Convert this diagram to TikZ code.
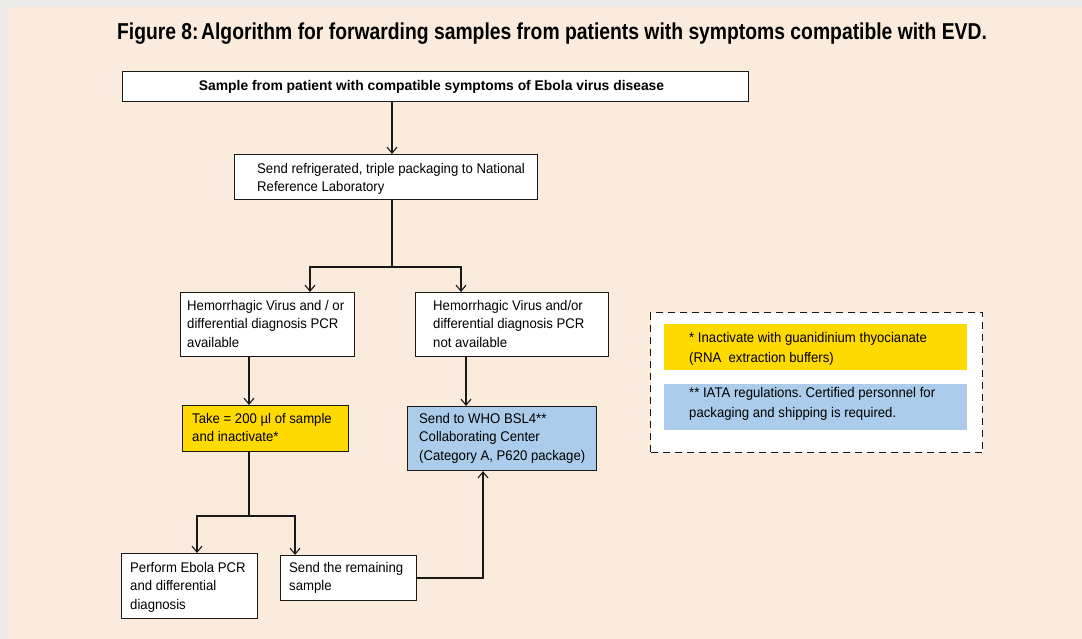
\documentclass[tikz,border=0pt]{standalone}
\usepackage{fontspec}
\setmainfont{Liberation Sans}
\newfontfamily\titlef[FakeStretch=0.84]{Liberation Sans}
\newfontfamily\bodyf[FakeStretch=0.94]{Liberation Sans}
\newfontfamily\headf[FakeStretch=0.99]{Liberation Sans}
\usetikzlibrary{arrows.meta,calc}
\definecolor{bgbeige}{RGB}{250,235,220}
\definecolor{bggray}{RGB}{235,235,234}
\definecolor{boxyellow}{RGB}{255,218,0}
\definecolor{boxblue}{RGB}{171,205,235}
\definecolor{linec}{RGB}{25,25,25}
\frenchspacing
\begin{document}
\begin{tikzpicture}[x=1pt,y=-1pt,
  box/.style={draw=linec, line width=1.1pt, fill=white, inner sep=0pt, anchor=north west},
  note/.style={fill=#1, inner sep=0pt, anchor=north west},
  txt/.style={anchor=north west, inner sep=0pt, align=left, font=\bodyf\fontsize{14}{18.5}\selectfont},
  ln/.style={draw=linec, line width=1.1pt},
  arr/.style={draw=linec, line width=1.1pt, -{Straight Barb[length=6pt,width=10pt]}}]
\useasboundingbox (0,0) rectangle (1082,639);
\fill[bggray] (0,0) rectangle (1082,639);
\fill[bgbeige] (7,7) rectangle (1082,639);
\node[anchor=base, inner sep=0pt, font=\titlef\bfseries\fontsize{23}{24}\selectfont] (title) at (552,40) {Figure 8:\hspace{2.5pt}Algorithm for forwarding samples from patients with symptoms compatible with EVD.};
% boxes
\node[box, minimum width=626pt, minimum height=30pt, font=\headf\bfseries\fontsize{14}{15}\selectfont] (b1) at (122,71) {Sample from patient with compatible symptoms of Ebola virus disease\hspace*{8pt}};
\node[box, minimum width=303pt, minimum height=45pt] (b2) at (234,154) {};
\node[box, minimum width=174pt, minimum height=64pt] (b3) at (180,292) {};
\node[box, minimum width=193pt, minimum height=64pt] (b4) at (415,292) {};
\node[box, fill=boxyellow, minimum width=166pt, minimum height=46pt] (b5) at (182,405) {};
\node[box, fill=boxblue, minimum width=189pt, minimum height=64pt] (b6) at (407,406) {};
\node[box, minimum width=136pt, minimum height=65pt] (b7) at (121,553) {};
\node[box, minimum width=136pt, minimum height=45pt] (b8) at (280,555) {};
\node[box, dashed, dash pattern=on 7pt off 5pt, line width=1pt, minimum width=332pt, minimum height=140pt] (leg) at (650,312) {};
\node[note=boxyellow, minimum width=303pt, minimum height=46pt] (n1) at (664,324) {};
\node[note=boxblue, minimum width=303pt, minimum height=46pt] (n2) at (664,384) {};
% texts
\node[txt] (t2) at (257,163) {Send refrigerated, triple packaging to National\\Reference Laboratory};
\node[txt] (t3) at (187,300) {Hemorrhagic Virus and / or\\differential diagnosis PCR\\available};
\node[txt] (t4) at (433,300) {Hemorrhagic Virus and/or\\differential diagnosis PCR\\not available};
\node[txt] (t5) at (192,413) {Take = 200 µl of sample\\and inactivate*};
\node[txt] (t6) at (419,413) {Send to WHO BSL4**\\Collaborating Center\\(Category A, P620 package)};
\node[txt] (t7) at (130,562) {Perform Ebola PCR\\and differential\\diagnosis};
\node[txt] (t8) at (289,562) {Send the remaining\\sample};
\node[txt, font=\bodyf\fontsize{14}{20}\selectfont] (tn1) at (689,332) {* Inactivate with guanidinium thyocianate\\(RNA\ \ extraction buffers)};
\node[txt, font=\bodyf\fontsize{14}{20}\selectfont] (tn2) at (689,387) {** IATA regulations. Certified personnel for\\packaging and shipping is required.};
% connectors
\coordinate (x392) at (392,0);
\coordinate (x310) at (310,0);
\coordinate (x461) at (461,0);
\coordinate (x249) at (249,0);
\coordinate (x466) at (466,0);
\coordinate (x197) at (197,0);
\coordinate (x295) at (295,0);
\coordinate (j1) at (392,267);
\coordinate (j2) at (249,516);
\coordinate (j3) at (483,578);
\draw[arr] (b1.south -| x392) -- (b2.north -| x392);
\draw[ln] (b2.south -| x392) -- (j1);
\draw[arr] (j1) -| (b3.north -| x310);
\draw[arr] (j1) -| (b4.north -| x461);
\draw[arr] (b3.south -| x249) -- (b5.north -| x249);
\draw[arr] (b4.south -| x466) -- (b6.north -| x466);
\draw[ln] (b5.south -| x249) -- (j2);
\draw[arr] (j2) -| (b7.north -| x197);
\draw[arr] (j2) -| (b8.north -| x295);
\draw[arr] (b8.east |- j3) -- (j3) -- (b6.south -| j3);
\end{tikzpicture}
\end{document}
